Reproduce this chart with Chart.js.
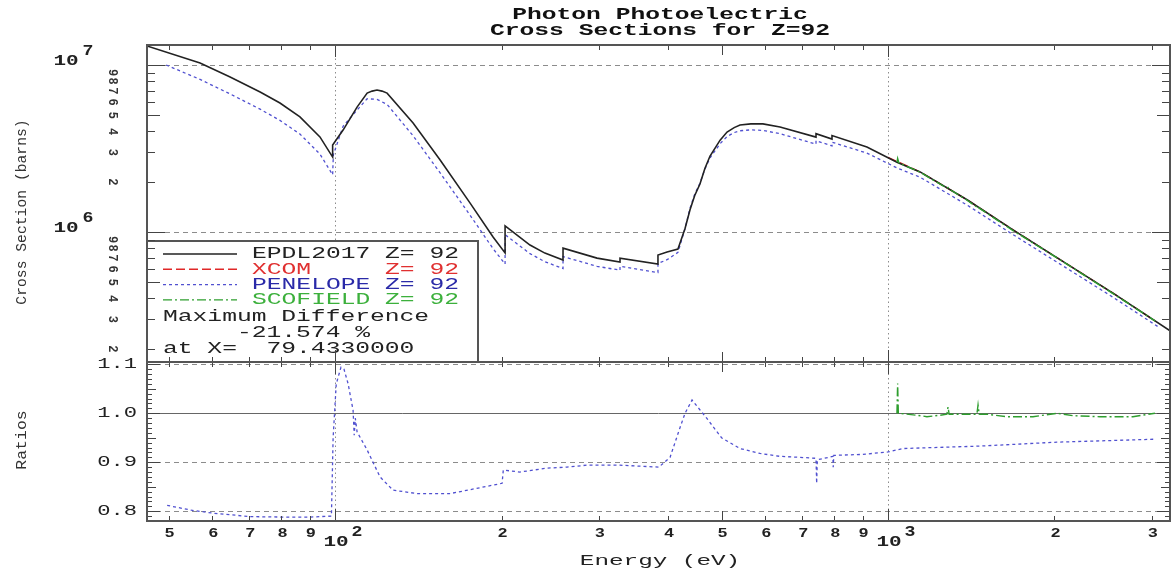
<!DOCTYPE html>
<html>
<head>
<meta charset="utf-8">
<title>Photon Photoelectric Cross Sections for Z=92</title>
<script src="https://cdn.jsdelivr.net/npm/chart.js@4.4.0/dist/chart.umd.min.js"></script>
<style>
  html, body { margin: 0; padding: 0; background: #fff; }
  #caja { position: relative; width: 1172px; height: 573px; }
</style>
</head>
<body>
<div id="caja"><canvas id="myChart" width="1172" height="573"></canvas></div>
<script>
const chart = document.querySelector("#myChart");
const MONO = '"Liberation Mono", "DejaVu Sans Mono", monospace';

// cross sections (barns) vs energy (eV)
const epdlEnergy = [45.7, 57.0, 64.6, 73.2, 79.5, 86.4, 93.9, 99.0, 99.0, 103.4, 109.6, 114.3, 116.7, 119.1, 121.6, 124.2, 138.4, 154.9, 175.5, 193.1, 203.0, 203.0, 225.2, 239.6, 258.4, 258.4, 297.7, 327.6, 327.6, 383.7, 383.7, 398.5, 417.0, 429.5, 438.5, 447.0, 457.0, 466.5, 476.6, 497.0, 511.6, 527.0, 540.0, 565.0, 594.0, 637.9, 741.0, 741.0, 792.0, 792.0, 916.0, 1038.0, 1143.0, 1390.0, 1683.0, 2552.0, 3263.0];
const epdlSigma = [1.30e7, 1.028e7, 8.47e6, 6.89e6, 5.92e6, 4.89e6, 3.71e6, 2.81e6, 3.32e6, 4.08e6, 5.60e6, 6.79e6, 6.98e6, 7.08e6, 6.98e6, 6.79e6, 4.50e6, 2.70e6, 1.49e6, 9.33e5, 7.49e5, 1.09e6, 8.36e5, 7.48e5, 6.79e5, 8.01e5, 6.98e5, 6.61e5, 6.98e5, 6.43e5, 7.28e5, 7.59e5, 7.91e5, 1.05e6, 1.36e6, 1.65e6, 1.94e6, 2.40e6, 2.85e6, 3.55e6, 3.97e6, 4.22e6, 4.37e6, 4.44e6, 4.44e6, 4.26e6, 3.70e6, 3.88e6, 3.60e6, 3.78e6, 3.23e6, 2.62e6, 2.29e6, 1.56e6, 1.03e6, 4.31e5, 2.52e5];

const penEnergy = [49.5, 57.0, 64.6, 73.2, 79.5, 86.4, 93.9, 99.0, 99.3, 103.4, 109.6, 114.3, 119.1, 124.2, 138.4, 154.9, 175.5, 193.1, 203.0, 203.0, 225.2, 239.6, 258.4, 258.4, 297.7, 327.6, 327.6, 383.7, 383.7, 398.5, 417.0, 429.5, 438.5, 447.0, 457.0, 466.5, 476.6, 497.0, 511.6, 527.0, 540.0, 565.0, 594.0, 637.9, 741.0, 741.0, 792.0, 792.0, 916.0, 1038.0, 1143.0, 1390.0, 1683.0, 2552.0, 3100.0];
const penSigma = [1.0e7, 8.2e6, 6.71e6, 5.44e6, 4.66e6, 3.86e6, 2.93e6, 2.2e6, 2.9e6, 4.3e6, 5.37e6, 6.28e6, 6.23e6, 5.81e6, 3.77e6, 2.26e6, 1.26e6, 7.95e5, 6.43e5, 9.64e5, 7.42e5, 6.64e5, 6.04e5, 7.13e5, 6.23e5, 5.91e5, 6.24e5, 5.72e5, 6.48e5, 6.83e5, 7.55e5, 1.05e6, 1.39e6, 1.68e6, 1.96e6, 2.38e6, 2.78e6, 3.38e6, 3.73e6, 3.94e6, 4.04e6, 4.09e6, 4.06e6, 3.88e6, 3.36e6, 3.52e6, 3.28e6, 3.45e6, 2.97e6, 2.42e6, 2.13e6, 1.45e6, 9.65e5, 4.07e5, 2.67e5];

const xcomEnergy = [1000, 1143, 1390, 1683, 2021, 2552, 3039];
const xcomSigma = [2.80e6, 2.29e6, 1.56e6, 1.03e6, 7.02e5, 4.31e5, 2.94e5];

const scoEnergy = [1038, 1041, 1046, 1143, 1278, 1284, 1290, 1390, 1448, 1455, 1462, 1683, 2021, 2552, 3039];
const scoSigma = [2.62e6, 2.76e6, 2.60e6, 2.28e6, 1.83e6, 1.85e6, 1.81e6, 1.55e6, 1.41e6, 1.43e6, 1.39e6, 1.02e6, 7.0e5, 4.28e5, 2.94e5];

// ratios to EPDL2017
const penRatioEnergy = [49.7, 55, 60.2, 70.2, 80, 90, 98.5, 99.2, 100.5, 102.5, 103.8, 105.6, 107.8, 108.3, 108.8, 109.6, 114.3, 120.6, 127.3, 140.7, 161.5, 182.9, 200.5, 201.5, 216, 241.7, 262.7, 285.5, 327.6, 385, 403.5, 420.7, 429.5, 442.2, 470, 500, 540, 586.9, 637.9, 693.3, 741, 743, 745, 795, 796, 798, 900, 1000, 1064.6, 1467, 2021, 3039];
const penRatio = [0.812, 0.802, 0.796, 0.789, 0.788, 0.788, 0.79, 0.95, 1.06, 1.094, 1.09, 1.06, 1.006, 0.955, 0.99, 0.962, 0.925, 0.87, 0.843, 0.836, 0.836, 0.848, 0.857, 0.884, 0.88, 0.888, 0.89, 0.894, 0.894, 0.89, 0.91, 0.971, 1.0, 1.027, 0.99, 0.95, 0.928, 0.918, 0.912, 0.91, 0.908, 0.857, 0.905, 0.912, 0.89, 0.914, 0.916, 0.921, 0.928, 0.933, 0.941, 0.947];

const scoRatioEnergy = [1038, 1041, 1044, 1128, 1176, 1242, 1278, 1284, 1290, 1333, 1448, 1455, 1462, 1510, 1641, 1829, 2021, 2160, 2417, 2773, 3039];
const scoRatio = [1.0, 1.061, 1.0, 0.996, 0.993, 0.996, 0.998, 1.013, 0.998, 0.998, 0.998, 1.017, 0.998, 0.998, 0.993, 0.993, 1.0, 0.995, 0.993, 0.993, 1.0];

// ticks
const xMinorTicks = [50, 60, 70, 80, 90, 200, 300, 400, 500, 600, 700, 800, 900, 2000, 3000];
const xMinorLabels = ["5", "6", "7", "8", "9", "2", "3", "4", "5", "6", "7", "8", "9", "2", "3"];
const xDecades = [100, 1000];
const xDecadeExp = ["2", "3"];
const yMinorTicks = [2e5, 3e5, 4e5, 5e5, 6e5, 7e5, 8e5, 9e5, 2e6, 3e6, 4e6, 5e6, 6e6, 7e6, 8e6, 9e6];
const yMinorLabels = ["2", "3", "4", "5", "6", "7", "8", "9", "2", "3", "4", "5", "6", "7", "8", "9"];
const yDecades = [1e6, 1e7];
const yDecadeExp = ["6", "7"];
const ratioTicks = [0.8, 0.9, 1.0, 1.1];
const ratioLabels = ["0.8", "0.9", "1.0", "1.1"];

const legendNames = ["EPDL2017 Z= 92", "XCOM     Z= 92", "PENELOPE Z= 92", "SCOFIELD Z= 92"];
const legendNotes = ["Maximum Difference", "     -21.574 %", "at X=  79.4330000"];

const estilos = {
  epdl: { color: "#222222", text: "#222222", dash: [], width: 1.6 },
  xcom: { color: "#e02828", text: "#e03030", dash: [9, 4], width: 1.4 },
  pen: { color: "#5050d0", text: "#2a2aa8", dash: [3, 3], width: 1.3 },
  sco: { color: "#2e9e2e", text: "#3cb03c", dash: [9, 3, 2, 3], width: 1.4 },
};
const ordenLeyenda = ["epdl", "xcom", "pen", "sco"];

const toPoints = (xs, ys) => xs.map((x, i) => ({ x: x, y: ys[i] }));

const serie = (label, xs, ys, est, axis, order) => ({
  label: label,
  data: toPoints(xs, ys),
  yAxisID: axis,
  showLine: true,
  borderColor: est.color,
  borderWidth: est.width,
  borderDash: est.dash,
  pointRadius: 0,
  tension: 0,
  fill: false,
  order: order,
});

const hline = (ctx, x1, x2, y) => {
  ctx.beginPath();
  ctx.moveTo(x1, y);
  ctx.lineTo(x2, y);
  ctx.stroke();
};

const vline = (ctx, x, y1, y2) => {
  ctx.beginPath();
  ctx.moveTo(x, y1);
  ctx.lineTo(x, y2);
  ctx.stroke();
};

const texto = (ctx, text, x, y, size, color, opts = {}) => {
  const { align = "center", sx = 1, bold = false, rot = 0 } = opts;
  ctx.save();
  ctx.font = `${bold ? "bold " : ""}${size}px ${MONO}`;
  ctx.fillStyle = color;
  ctx.textAlign = align;
  ctx.textBaseline = "middle";
  ctx.translate(x, y);
  if (rot) ctx.rotate(rot);
  ctx.scale(sx, 1);
  ctx.fillText(text, 0, 0);
  ctx.restore();
};

const marco = {
  id: "marco",
  beforeDatasetsDraw(c) {
    const { ctx } = c;
    const { x, y, yr } = c.scales;
    ctx.save();
    ctx.strokeStyle = "#8c8c8c";
    ctx.lineWidth = 1;
    ctx.setLineDash([5, 4]);
    yDecades.forEach((v) => hline(ctx, x.left, x.right, Math.round(y.getPixelForValue(v)) + 0.5));
    ratioTicks.forEach((v) => {
      if (v !== 1.0) hline(ctx, x.left, x.right, Math.round(yr.getPixelForValue(v)) + 0.5);
    });
    ctx.setLineDash([1.5, 3]);
    xDecades.forEach((v) => vline(ctx, Math.round(x.getPixelForValue(v)) + 0.5, y.top, yr.bottom));
    ctx.setLineDash([]);
    ctx.strokeStyle = "#666666";
    hline(ctx, x.left, x.right, Math.round(yr.getPixelForValue(1.0)) + 0.5);
    ctx.restore();
  },
  afterDatasetsDraw(c) {
    const { ctx } = c;
    const { x, y, yr } = c.scales;
    ctx.save();

    // legend box
    const bx = x.left, by = 241, bw = 478 - x.left, bh = y.bottom - 241;
    ctx.fillStyle = "#ffffff";
    ctx.fillRect(bx, by, bw, bh);
    ordenLeyenda.forEach((k, i) => {
      const est = estilos[k];
      const ly = 254 + i * 15.3;
      ctx.strokeStyle = est.color;
      ctx.lineWidth = est.width;
      ctx.setLineDash(est.dash);
      hline(ctx, 163, 237, ly);
      ctx.setLineDash([]);
      texto(ctx, legendNames[i], 252, ly, 16, est.text, { align: "left", sx: 1.54 });
    });
    legendNotes.forEach((t, i) => {
      texto(ctx, t, 163, 317 + i * 15.7, 16, "#222", { align: "left", sx: 1.54 });
    });
    ctx.strokeStyle = "#555";
    ctx.lineWidth = 2;
    ctx.strokeRect(bx, by, bw, bh);

    // ticks
    ctx.strokeStyle = "#444";
    ctx.lineWidth = 1;
    xMinorTicks.forEach((v) => {
      const px = Math.round(x.getPixelForValue(v)) + 0.5;
      const len = v === 500 ? 10 : 5;
      vline(ctx, px, y.top, y.top + len);
      vline(ctx, px, y.bottom - len, y.bottom + len);
      vline(ctx, px, yr.bottom - len, yr.bottom);
    });
    xDecades.forEach((v) => {
      const px = Math.round(x.getPixelForValue(v)) + 0.5;
      vline(ctx, px, y.top, y.top + 12);
      vline(ctx, px, y.bottom - 12, y.bottom + 12);
      vline(ctx, px, yr.bottom - 12, yr.bottom);
    });
    yMinorTicks.forEach((v) => {
      const py = Math.round(y.getPixelForValue(v)) + 0.5;
      const len = v === 5e5 || v === 5e6 ? 13 : 8;
      hline(ctx, x.left, x.left + len, py);
      hline(ctx, x.right - len, x.right, py);
    });
    yDecades.forEach((v) => {
      const py = Math.round(y.getPixelForValue(v)) + 0.5;
      hline(ctx, x.left, x.left + 18, py);
      hline(ctx, x.right - 18, x.right, py);
    });
    for (let k = 78; k <= 110; k++) {
      const py = Math.round(yr.getPixelForValue(k / 100)) + 0.5;
      const len = k % 10 === 0 ? 13 : k % 5 === 0 ? 9 : 5;
      hline(ctx, x.left, x.left + len, py);
      hline(ctx, x.right - len, x.right, py);
    }

    // panel frames
    ctx.strokeStyle = "#555";
    ctx.lineWidth = 2;
    ctx.strokeRect(x.left, y.top, x.right - x.left, y.bottom - y.top);
    ctx.strokeRect(x.left, yr.top, x.right - x.left, yr.bottom - yr.top);

    // tick labels
    xMinorTicks.forEach((v, i) => {
      texto(ctx, xMinorLabels[i], x.getPixelForValue(v) + 1, 534, 13, "#222", { bold: true, sx: 1.3 });
    });
    xDecades.forEach((v, i) => {
      const px = x.getPixelForValue(v);
      texto(ctx, "10", px + 1, 542, 15, "#222", { bold: true, sx: 1.4 });
      texto(ctx, xDecadeExp[i], px + 22, 532, 14, "#222", { bold: true, sx: 1.3 });
    });
    yMinorTicks.forEach((v, i) => {
      texto(ctx, yMinorLabels[i], 112, y.getPixelForValue(v), 12, "#333", { bold: true, rot: Math.PI / 2 });
    });
    yDecades.forEach((v, i) => {
      const py = y.getPixelForValue(v);
      texto(ctx, "10", 66, py - 4, 15, "#222", { bold: true, sx: 1.4 });
      texto(ctx, yDecadeExp[i], 88, py - 14, 14, "#222", { bold: true, sx: 1.3 });
    });
    ratioTicks.forEach((v, i) => {
      texto(ctx, ratioLabels[i], 137, yr.getPixelForValue(v), 14, "#222", { align: "right", sx: 1.58 });
    });

    // titles
    texto(ctx, "Photon Photoelectric", 660, 15, 16, "#111", { bold: true, sx: 1.54 });
    texto(ctx, "Cross Sections for Z=92", 660, 31, 16, "#111", { bold: true, sx: 1.54 });
    texto(ctx, "Energy (eV)", 660, 561, 15, "#222", { sx: 1.62 });
    texto(ctx, "Cross Section (barns)", 22, 212, 14, "#333", { rot: -Math.PI / 2, sx: 1.05 });
    texto(ctx, "Ratios", 22, 440, 15, "#333", { rot: -Math.PI / 2, sx: 1.1 });

    ctx.restore();
  },
};

const datasets = [
  serie("SCOFIELD Z= 92", scoEnergy, scoSigma, estilos.sco, "y", 0),
  serie("EPDL2017 Z= 92", epdlEnergy, epdlSigma, estilos.epdl, "y", 1),
  serie("PENELOPE Z= 92", penEnergy, penSigma, estilos.pen, "y", 2),
  serie("XCOM Z= 92", xcomEnergy, xcomSigma, estilos.xcom, "y", 3),
  serie("SCOFIELD ratio", scoRatioEnergy, scoRatio, estilos.sco, "yr", 0),
  serie("PENELOPE ratio", penRatioEnergy, penRatio, estilos.pen, "yr", 1),
];

const ejeOculto = {
  ticks: { display: false },
  grid: { display: false },
  border: { display: false },
  title: { display: false },
};

const config = {
  type: "scatter",
  data: { datasets },
  options: {
    responsive: false,
    animation: false,
    devicePixelRatio: 1,
    layout: { padding: { top: 45, right: 2, bottom: 0, left: 0 } },
    plugins: { legend: { display: false }, tooltip: { enabled: false } },
    scales: {
      x: {
        ...ejeOculto,
        type: "logarithmic",
        min: 45.7,
        max: 3236,
        afterFit: (s) => { s.height = 52; },
      },
      y: {
        ...ejeOculto,
        type: "logarithmic",
        position: "left",
        stack: "paneles",
        stackWeight: 317,
        weight: 2,
        min: 1.666e5,
        max: 1.318e7,
        afterFit: (s) => { s.width = 147; },
      },
      yr: {
        ...ejeOculto,
        type: "linear",
        position: "left",
        stack: "paneles",
        stackWeight: 159,
        weight: 1,
        min: 0.78,
        max: 1.1047,
        afterFit: (s) => { s.width = 147; },
      },
    },
  },
  plugins: [marco],
};

const myChart = new Chart(chart, config);
</script>
</body>
</html>
